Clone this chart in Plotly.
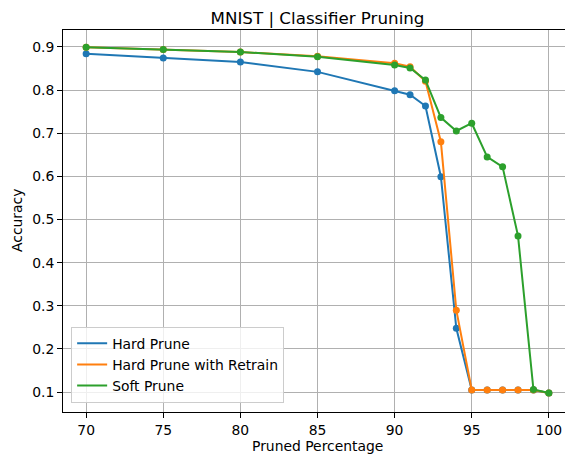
import plotly.graph_objects as go

pruned = [70, 75, 80, 85, 90, 91, 92, 93, 94, 95, 96, 97, 98, 99, 100]
hard_prune = [0.884, 0.874, 0.865, 0.842, 0.798, 0.789, 0.763, 0.599, 0.248, 0.105, 0.105, 0.105, 0.105, 0.105, 0.098]
hard_retrain = [0.899, 0.894, 0.888, 0.878, 0.862, 0.854, 0.820, 0.680, 0.290, 0.105, 0.105, 0.105, 0.105, 0.105, 0.098]
soft_prune = [0.899, 0.894, 0.888, 0.877, 0.858, 0.851, 0.823, 0.736, 0.705, 0.723, 0.645, 0.622, 0.462, 0.106, 0.098]

series = [
    ("Hard Prune", hard_prune, "#1f77b4"),
    ("Hard Prune with Retrain", hard_retrain, "#ff7f0e"),
    ("Soft Prune", soft_prune, "#2ca02c"),
]

fig = go.Figure()
for name, vals, color in series:
    fig.add_trace(go.Scatter(
        x=pruned, y=vals, name=name, mode="lines",
        line=dict(color=color, width=2), legendgroup=name,
    ))
    fig.add_trace(go.Scatter(
        x=pruned, y=vals, name=name, mode="markers", showlegend=False,
        marker=dict(color=color, size=7), legendgroup=name,
    ))

FS = 13.9
axis_common = dict(
    showline=True, linecolor="black", linewidth=1, mirror=True,
    ticks="outside", ticklen=5, tickcolor="black",
    showgrid=True, gridcolor="#b0b0b0", gridwidth=1,
    zeroline=False, tickfont=dict(size=FS, color="black"),
    automargin=False,
)

W, H = 565, 446
fig.update_layout(
    width=W, height=H,
    margin=dict(l=55, r=1, t=22, b=42),
    paper_bgcolor="white", plot_bgcolor="white",
    font=dict(family="DejaVu Sans", size=FS, color="black"),
    title=dict(text="MNIST | Classifier Pruning", x=(55 + 564) / 2 / W, xanchor="center",
               y=1 - 10 / H, yanchor="middle", font=dict(size=16.7)),
    xaxis=dict(axis_common, range=[68.5, 101.5], tickvals=[70, 75, 80, 85, 90, 95, 100]),
    yaxis=dict(axis_common, range=[0.054, 0.939],
               tickvals=[0.1, 0.2, 0.3, 0.4, 0.5, 0.6, 0.7, 0.8, 0.9], tickformat=".1f"),
    legend=dict(x=0.016, y=0.024, xanchor="left", yanchor="bottom",
                bgcolor="rgba(255,255,255,0.8)", bordercolor="#cccccc", borderwidth=1,
                itemwidth=30, tracegroupgap=0,
                font=dict(size=FS)),
    showlegend=True,
    annotations=[
        dict(text="Pruned Percentage", xref="paper", yref="paper", x=0.5, y=0,
             yshift=-34, xanchor="center", yanchor="middle", showarrow=False,
             font=dict(size=FS)),
        dict(text="Accuracy", xref="paper", yref="paper", x=0, y=0.5, xshift=-46,
             textangle=-90, xanchor="center", yanchor="middle", showarrow=False,
             font=dict(size=FS)),
    ],
)

fig.write_html("out.html")
